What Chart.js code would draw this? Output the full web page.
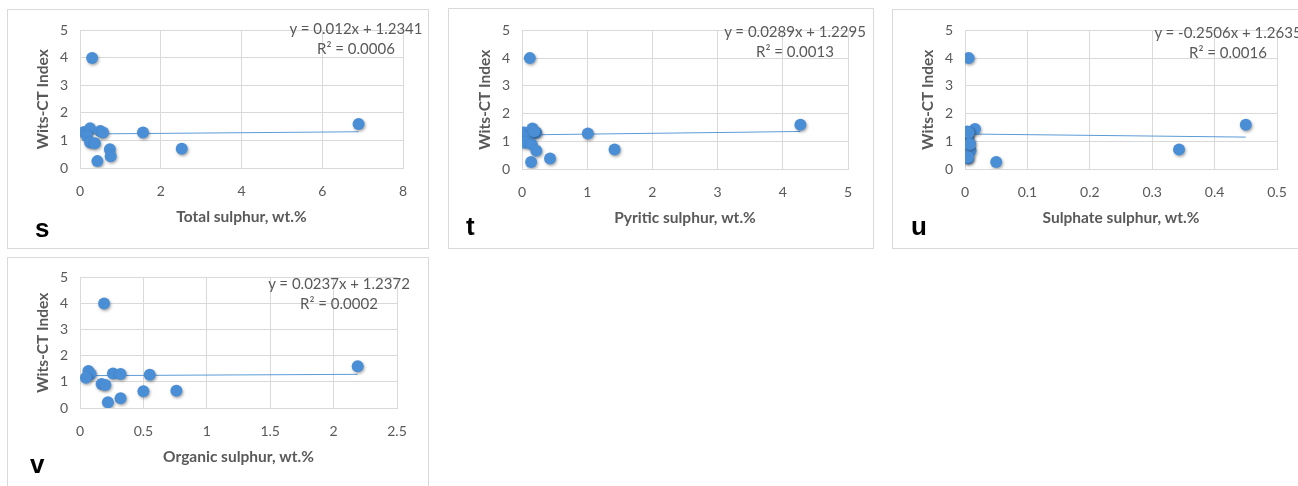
<!DOCTYPE html>
<html>
<head>
<meta charset="utf-8">
<script src="https://cdn.jsdelivr.net/npm/chart.js@4.4.0/dist/chart.umd.min.js"></script>
<style>
    body { margin: 0; width: 1298px; height: 486px; overflow: hidden; background: #fff; position: relative; }
    .box { position: absolute; border: 1px solid #d9d9d9; background: #fff; box-sizing: border-box; }
    .wrap { position: absolute; }
    .eq { position: absolute; color: #595959; font: 15px Lato, sans-serif; text-align: center; white-space: nowrap; line-height: 20px; transform: translateX(-50%); }
    .tag { position: absolute; font: bold 26px "Liberation Sans", Arial, sans-serif; line-height: 26px; color: #000; }
</style>
</head>
<body>
<script>
// Wits-CT index against sulphur forms
const witsTicks = [0, 1, 2, 3, 4, 5];

const totalSulphur = [0.30, 6.90, 0.10, 0.25, 0.50, 0.57, 1.56, 0.17, 0.25, 0.37, 2.52, 0.74, 0.76, 0.43];
const witsTotal = [4.00, 1.60, 1.31, 1.44, 1.34, 1.29, 1.29, 1.16, 0.93, 0.90, 0.70, 0.68, 0.43, 0.25];

const pyriticSulphur = [0.12, 4.27, 0.03, 0.16, 0.22, 0.10, 0.05, 0.15, 1.42, 0.22, 0.43, 0.14, 1.01, 0.19];
const witsPyritic = [4.00, 1.60, 1.32, 1.46, 1.31, 1.14, 0.95, 0.89, 0.70, 0.66, 0.38, 0.25, 1.28, 1.36];

const sulphateSulphur = [0.006, 0.450, 0.343, 0.003, 0.016, 0.005, 0.007, 0.009, 0.005, 0.050, 0.004, 0.006, 0.008, 0.005];
const witsSulphate = [4.00, 1.60, 0.70, 1.32, 1.44, 1.17, 0.96, 0.66, 0.38, 0.25, 1.35, 1.30, 0.90, 0.42];

const organicSulphur = [0.19, 2.19, 0.066, 0.084, 0.047, 0.26, 0.32, 0.55, 0.17, 0.20, 0.50, 0.76, 0.32, 0.22];
const witsOrganic = [4.00, 1.60, 1.42, 1.30, 1.16, 1.32, 1.30, 1.27, 0.92, 0.88, 0.64, 0.66, 0.37, 0.22];

const xTicksTotal = [0, 2, 4, 6, 8];
const xTicksPyritic = [0, 1, 2, 3, 4, 5];
const xTicksSulphate = [0, 0.1, 0.2, 0.3, 0.4, 0.5];
const xTicksOrganic = [0, 0.5, 1, 1.5, 2, 2.5];

const trendSlopes = [0.012, 0.0289, -0.2506, 0.0237];
const trendIntercepts = [1.2341, 1.2295, 1.2635, 1.2372];
const equationText = [
    ['y = 0.012x + 1.2341', 'R² = 0.0006'],
    ['y = 0.0289x + 1.2295', 'R² = 0.0013'],
    ['y = -0.2506x + 1.2635', 'R² = 0.0016'],
    ['y = 0.0237x + 1.2372', 'R² = 0.0002']
];
const xTitles = ['Total sulphur, wt.%', 'Pyritic sulphur, wt.%', 'Sulphate sulphur, wt.%', 'Organic sulphur, wt.%'];
const panelTags = ['s', 't', 'u', 'v'];

const panelData = [
    { x: totalSulphur, y: witsTotal, ticks: xTicksTotal },
    { x: pyriticSulphur, y: witsPyritic, ticks: xTicksPyritic },
    { x: sulphateSulphur, y: witsSulphate, ticks: xTicksSulphate },
    { x: organicSulphur, y: witsOrganic, ticks: xTicksOrganic }
];

// page layout (box, plot area, equation and tag positions)
const layouts = [
    { box: [7, 9, 422, 240], plot: [80, 30, 403, 168], eq: [356, 18], tag: [35, 215] },
    { box: [448, 8, 426, 241], plot: [522, 30, 848, 169], eq: [795, 21], tag: [466, 213] },
    { box: [892, 9, 440, 240], plot: [965, 30, 1277, 169], eq: [1228, 22], tag: [911, 213] },
    { box: [7, 257, 422, 260], plot: [80, 277, 397, 408], eq: [339, 273], tag: [30, 451] }
];

const BLUE = '#4A8ED6';
const GRID = '#d9d9d9';
const TEXT = '#595959';
const Y_W = 72, PAD_T = 20, PAD_R = 30, X_H = 62, PAD_B = 4;

// soft drop shadow under the markers, like the Excel original
const markerShadow = {
    id: 'markerShadow',
    beforeDatasetDraw(chart, args) {
        if (args.index !== 0) return;
        const ctx = chart.ctx;
        ctx.save();
        ctx.shadowColor = 'rgba(0, 0, 0, 0.35)';
        ctx.shadowBlur = 3;
        ctx.shadowOffsetX = 1;
        ctx.shadowOffsetY = 1.5;
    },
    afterDatasetDraw(chart, args) {
        if (args.index === 0) chart.ctx.restore();
    }
};

function addDiv(cls, left, top, html) {
    const d = document.createElement('div');
    d.className = cls;
    d.style.left = left + 'px';
    d.style.top = top + 'px';
    d.innerHTML = html;
    document.body.appendChild(d);
    return d;
}

panelData.forEach((p, i) => {
    const L = layouts[i];
    const box = addDiv('box', L.box[0], L.box[1], '');
    box.style.width = L.box[2] + 'px';
    box.style.height = L.box[3] + 'px';

    const cLeft = L.plot[0] - Y_W;
    const cTop = L.plot[1] - PAD_T;
    const cW = L.plot[2] - cLeft + PAD_R;
    const cH = L.plot[3] - cTop + X_H + PAD_B;
    const wrap = addDiv('wrap', cLeft, cTop, '');
    const canvas = document.createElement('canvas');
    canvas.width = cW;
    canvas.height = cH;
    wrap.appendChild(canvas);

    const xMin = Math.min(...p.x), xMax = Math.max(...p.x);
    const trend = [xMin, xMax].map(x => ({ x, y: trendSlopes[i] * x + trendIntercepts[i] }));

    new Chart(canvas.getContext('2d'), {
        type: 'scatter',
        data: {
            datasets: [
                {
                    data: p.x.map((x, k) => ({ x, y: p.y[k] })),
                    backgroundColor: BLUE,
                    borderColor: BLUE,
                    borderWidth: 0,
                    pointRadius: 6,
                    order: 0
                },
                {
                    type: 'line',
                    data: trend,
                    borderColor: '#5B9BD5',
                    borderWidth: 1,
                    pointRadius: 0,
                    fill: false,
                    order: 1
                }
            ]
        },
        options: {
            responsive: false,
            animation: false,
            layout: { padding: { left: 0, top: PAD_T, right: PAD_R, bottom: PAD_B } },
            plugins: { legend: { display: false }, tooltip: { enabled: false } },
            scales: {
                x: {
                    type: 'linear',
                    min: p.ticks[0],
                    max: p.ticks[p.ticks.length - 1],
                    afterBuildTicks: s => { s.ticks = p.ticks.map(v => ({ value: v })); },
                    afterFit: s => { s.height = X_H; },
                    grid: { color: GRID, drawTicks: false },
                    border: { color: GRID },
                    ticks: { padding: 15, color: TEXT, font: { family: 'Lato', size: 14 }, callback: v => String(v), maxRotation: 0 },
                    title: { display: true, text: xTitles[i], color: TEXT, font: { family: 'Lato', size: 15.5, weight: 'bold' }, padding: { top: 0, bottom: 4 } }
                },
                y: {
                    min: 0,
                    max: 5,
                    afterBuildTicks: s => { s.ticks = witsTicks.map(v => ({ value: v })); },
                    afterFit: s => { s.width = Y_W; },
                    grid: { color: GRID, drawTicks: false },
                    border: { color: GRID },
                    ticks: { padding: 12, color: TEXT, font: { family: 'Lato', size: 14 }, callback: v => String(v) },
                    title: { display: true, text: 'Wits-CT Index', color: TEXT, font: { family: 'Lato', size: 15.5, weight: 'bold' }, padding: { top: 26, bottom: 0 } }
                }
            }
        },
        plugins: [markerShadow]
    });

    addDiv('eq', L.eq[0], L.eq[1], equationText[i].join('<br>'));
    addDiv('tag', L.tag[0], L.tag[1], panelTags[i]);
});
</script>
</body>
</html>
